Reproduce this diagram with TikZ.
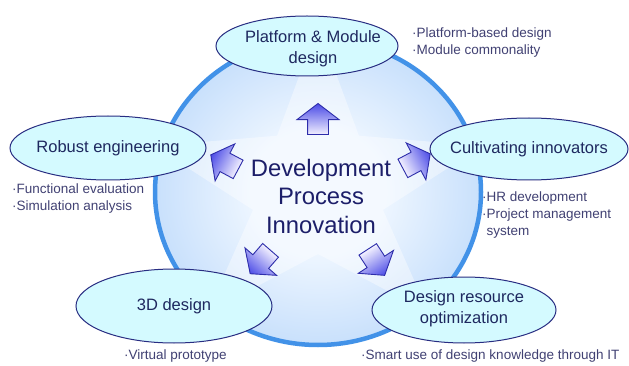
\documentclass[tikz,border=0pt]{standalone}
\usepackage{fontspec}
\setmainfont{Liberation Sans}
\usetikzlibrary{shapes.geometric,shapes.arrows}
\definecolor{discA}{RGB}{238,246,255}
\definecolor{discM}{RGB}{188,217,251}
\definecolor{discB}{RGB}{138,182,240}
\definecolor{ring}{RGB}{66,146,232}
\definecolor{ellfill}{RGB}{212,250,255}
\definecolor{elldraw}{RGB}{40,45,130}
\definecolor{labtext}{RGB}{30,40,95}
\definecolor{centext}{RGB}{28,30,105}
\definecolor{notetext}{RGB}{65,65,115}
\definecolor{arrtip}{RGB}{75,75,230}
\definecolor{arrtail}{RGB}{242,240,255}
\definecolor{arrdraw}{RGB}{45,45,170}
\pgfdeclareradialshading{discshade}{\pgfpoint{0bp}{0bp}}{color(0bp)=(discA); color(10bp)=(discA); color(30bp)=(discM); color(50bp)=(discB); color(75bp)=(discB)}
\begin{document}
\begin{tikzpicture}[x=1pt,y=-1pt,
  ell/.style={ellipse, draw=elldraw, line width=1pt, fill=ellfill, inner sep=0pt},
  lab/.style={text=labtext, font=\fontsize{16.5}{21}\selectfont, align=center, inner sep=0pt},
  note/.style={anchor=west, text=notetext, font=\fontsize{13.5}{17}\selectfont, align=left, inner sep=0pt},
  bigarr/.style={single arrow, draw=arrdraw, line width=0.9pt, left color=arrtail, right color=arrtip,
    minimum height=31pt, minimum width=41pt, inner xsep=0pt, inner ysep=10pt,
    single arrow head extend=10.5pt, single arrow tip angle=105}]
\useasboundingbox (0,0) rectangle (629,366);
\fill[white] (0,0) rectangle (629,366);
% disc
\node[ellipse, minimum width=326pt, minimum height=306pt, inner sep=0pt, shading=discshade, draw=ring, line width=4.5pt] (disc) at (318,192) {};
% star
\begin{scope}
\clip (318,192) ellipse [x radius=161pt, y radius=151pt];
\begin{scope}[shift={(318,190)}]
\fill[white, fill opacity=0.4] (90:165pt) -- (127:68pt) -- (165:170pt) -- (197:68pt) -- (228:165pt) -- (270:64pt) -- (312:165pt) -- (343:68pt) -- (15:170pt) -- (53:68pt) -- cycle;
\end{scope}
\end{scope}
% arrows
\begin{scope}[transform canvas={shift={(318,123)},rotate=90}]
\node[bigarr] (aup) {};
\end{scope}
\begin{scope}[transform canvas={shift={(228,164)},rotate=152}]
\node[bigarr] (aleft) {};
\end{scope}
\begin{scope}[transform canvas={shift={(413,163)},rotate=28}]
\node[bigarr] (aright) {};
\end{scope}
\begin{scope}[transform canvas={shift={(263,259)},rotate=229}]
\node[bigarr] (adl) {};
\end{scope}
\begin{scope}[transform canvas={shift={(374,259)},rotate=303}]
\node[bigarr] (adr) {};
\end{scope}
% title
\node[text=centext, font=\fontsize{23.8}{28.5}\selectfont, align=center, inner sep=0pt] (title) at (321,196) {Development\\Process\\Innovation};
% ellipses
\node[ell, minimum width=182pt, minimum height=60pt] (pm) at (307,46) {};
\node[lab] (pmt) at (313,49) {Platform \& Module\\design};
\node[ell, minimum width=196pt, minimum height=64pt] (rob) at (108,148) {};
\node[lab] (robt) at (rob) {Robust engineering};
\node[ell, minimum width=198pt, minimum height=62pt] (cult) at (529,149) {};
\node[lab] (cultt) at (cult) {Cultivating innovators};
\node[ell, minimum width=196pt, minimum height=74pt] (tdd) at (174,306) {};
\node[lab] (tddt) at (tdd) {3D design};
\node[ell, minimum width=184pt, minimum height=66pt] (dro) at (464,310) {};
\node[lab] (drot) at (464,309) {Design resource\\optimization};
% notes
\node[note] (n1) at (412,43) {·Platform-based design\\·Module commonality};
\node[note] (n2) at (12,198.5) {·Functional evaluation\\·Simulation analysis};
\node[note] (n3) at (482,215) {·HR development\\·Project management\\\phantom{·}system};
\node[note] (n4) at (124,356) {·Virtual prototype};
\node[note] (n5) at (361,356) {·Smart use of design knowledge through IT};
\end{tikzpicture}
\end{document}
